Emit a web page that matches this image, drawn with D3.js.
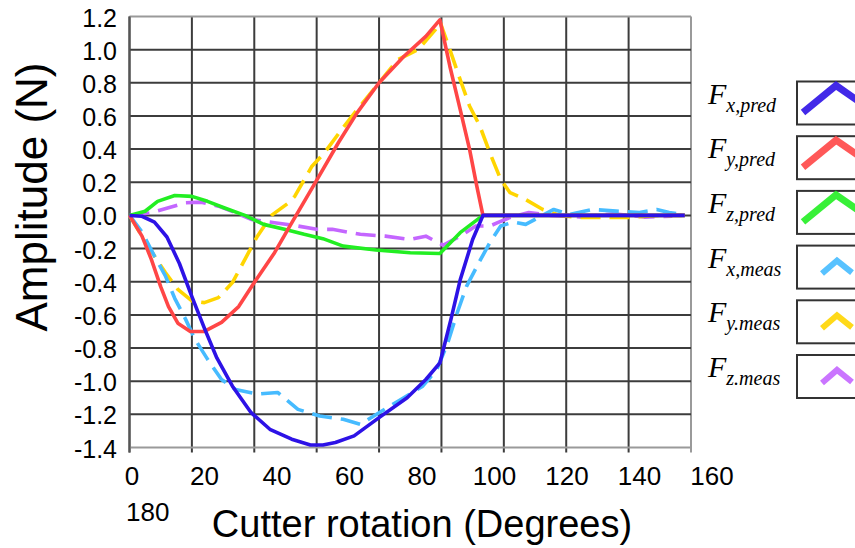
<!DOCTYPE html>
<html>
<head>
<meta charset="utf-8">
<script src="https://cdn.jsdelivr.net/npm/d3@7"></script>
<style>
  body { margin: 0; background: #fff; }
  svg { display: block; }
</style>
</head>
<body>
<svg width="855" height="548"></svg>
<script>
// series, [rotation, amplitude]
var fxPred = [[0,0],[4,-0.005],[8,-0.04],[12,-0.13],[16,-0.29],[20,-0.49],[24,-0.68],[28,-0.86],[33,-1.03],[39,-1.19],[45,-1.29],[52,-1.35],[58,-1.385],[62,-1.385],[66,-1.37],[72,-1.33],[80,-1.22],[89,-1.10],[95,-0.99],[99.5,-0.89],[103,-0.63],[106,-0.39],[110,-0.145],[113.3,0],[178,0]];
var fyPred = [[0,0],[4,-0.125],[7,-0.265],[10,-0.43],[12.5,-0.55],[15.5,-0.65],[19.5,-0.70],[24,-0.70],[29.5,-0.645],[35,-0.55],[40,-0.405],[46.5,-0.225],[52,-0.045],[59,0.18],[67,0.44],[73,0.62],[80,0.80],[88,0.96],[95,1.08],[99.5,1.18],[102.7,0.90],[106,0.64],[109,0.40],[111.3,0.18],[113.3,0],[178,0]];
var fzPred = [[0,0],[5,0.025],[9,0.085],[14.5,0.12],[20,0.115],[25,0.085],[30.5,0.045],[37,0],[43,-0.054],[50,-0.085],[56,-0.114],[62,-0.14],[68.5,-0.185],[79,-0.209],[90,-0.225],[99.5,-0.23],[106,-0.104],[113.3,0],[178,0]];
var fxMeas = [[0,0],[4,-0.10],[8,-0.245],[11.5,-0.365],[14.5,-0.5],[18,-0.627],[21,-0.747],[25,-0.867],[29.5,-0.99],[34,-1.05],[41,-1.078],[47.5,-1.068],[54,-1.17],[61,-1.21],[68.5,-1.23],[74,-1.26],[80,-1.19],[87,-1.11],[94,-1.03],[98.5,-0.93],[102,-0.77],[105,-0.59],[108,-0.43],[112,-0.285],[115.5,-0.165],[119,-0.064],[123,-0.04],[127,-0.054],[136,0.036],[141,0.006],[148.5,0.036],[156,0.026],[163.5,0.018],[169,0.036],[173,0.018],[177,0.006]];
var fyMeas = [[0,0],[4,-0.125],[8,-0.245],[11.5,-0.345],[15.5,-0.446],[20,-0.516],[24,-0.526],[28.5,-0.496],[33,-0.405],[37,-0.265],[41,-0.125],[45.5,0],[51,0.076],[53,0.116],[58.5,0.297],[62.5,0.378],[68,0.518],[73,0.639],[80,0.80],[86,0.94],[92.5,1.0],[98,1.12],[99.5,1.17],[102.7,1.0],[106,0.82],[109,0.66],[112.3,0.54],[115.5,0.378],[119,0.217],[122,0.137],[127,0.096],[132.5,0.036],[138,0],[144,-0.012],[160,-0.012],[170,0],[177,0]];
var fzMeas = [[0,0],[7,0.016],[12.5,0.046],[18,0.076],[23,0.08],[28.5,0.056],[34,0.016],[39,-0.024],[46.5,-0.044],[54,-0.064],[60,-0.084],[65,-0.084],[74,-0.114],[82,-0.125],[90,-0.145],[95,-0.125],[100.5,-0.18],[106,-0.125],[111,-0.064],[115.5,-0.064],[118,-0.044],[122,-0.012],[128,0.018],[135,0],[145,-0.01],[155,0.01],[165,-0.01],[174,-0.004]];

var seriesNames = ["x,pred","y,pred","z,pred","x,meas","y.meas","z.meas"];
var seriesColors = ["#2d12e6","#ff4646","#22ee22","#46bbff","#ffd500","#c466ff"];
var xTickLabels = ["0","20","40","60","80","100","120","140","160"];
var xOverflowLabel = "180";
var yTicks = [1.2,1.0,0.8,0.6,0.4,0.2,0.0,-0.2,-0.4,-0.6,-0.8,-1.0,-1.2,-1.4];

var svg = d3.select("svg");
var x = d3.scaleLinear().domain([0,180]).range([129.5,691]);
var y = d3.scaleLinear().domain([-1.4,1.2]).range([447.5,16.5]);

// grid
var grid = svg.append("g");
grid.selectAll(".vg").data(d3.range(0,181,20)).enter().append("line")
  .attr("x1",d=>x(d)).attr("x2",d=>x(d)).attr("y1",y(1.2)).attr("y2",y(-1.4)+5)
  .attr("stroke",d=>d==180?"#9a9a9a":"#3c3c3c").attr("stroke-width",2);
grid.selectAll(".hg").data(yTicks).enter().append("line")
  .attr("x1",x(0)).attr("x2",x(180)).attr("y1",d=>y(d)).attr("y2",d=>y(d))
  .attr("stroke",d=>(d==1.2||d==-1.4)?"#9a9a9a":"#3c3c3c").attr("stroke-width",2);
grid.append("line").attr("x1",x(0)).attr("x2",x(0)).attr("y1",y(1.2)).attr("y2",y(-1.4)+5)
  .attr("stroke","#555").attr("stroke-width",2);

// y tick labels
svg.append("g").selectAll("text").data(yTicks).enter().append("text")
  .attr("x",117).attr("y",d=>y(d)).attr("dy","0.4em")
  .attr("text-anchor","end")
  .style("font-family","Liberation Sans, Arial, sans-serif").style("font-size","25px")
  .text(d=>d3.format(".1f")(d).replace("−","-"));

// x tick labels (spaced as in the picture, last one wraps)
var xl = d3.scalePoint().domain(xTickLabels).range([132,712]);
svg.append("g").selectAll("text").data(xTickLabels).enter().append("text")
  .attr("x",d=>xl(d)).attr("y",485)
  .attr("text-anchor","middle")
  .style("font-family","Liberation Sans, Arial, sans-serif").style("font-size","26px")
  .text(d=>d);
svg.append("text").attr("x",126).attr("y",521)
  .style("font-family","Liberation Sans, Arial, sans-serif").style("font-size","26px")
  .text(xOverflowLabel);

// titles
svg.append("text").attr("x",422).attr("y",537).attr("text-anchor","middle")
  .style("font-family","Liberation Sans, Arial, sans-serif").style("font-size","38px")
  .text("Cutter rotation (Degrees)");
svg.append("text").attr("transform","translate(47,197) rotate(-90)").attr("text-anchor","middle")
  .style("font-family","Liberation Sans, Arial, sans-serif").style("font-size","44px")
  .text("Amplitude (N)");

// lines
var line = d3.line().x(d=>x(d[0])).y(d=>y(d[1]));
var allSeries = [fxPred,fyPred,fzPred,fxMeas,fyMeas,fzMeas];
var drawOrder = [5,4,3,2,1,0];
svg.append("g").selectAll("path").data(drawOrder).enter().append("path")
  .attr("d",i=>line(allSeries[i]))
  .attr("fill","none")
  .attr("stroke",i=>seriesColors[i])
  .attr("stroke-width",3.6)
  .attr("stroke-linejoin","round")
  .attr("stroke-dasharray",i=>i>2?"20,9":null);

// legend
var lg = svg.append("g");
var rowY = d3.scaleLinear().domain([0,5]).range([81.5,355]);
var rows = lg.selectAll("g").data(seriesNames).enter().append("g")
  .attr("transform",(d,i)=>"translate(0,"+rowY(i)+")");
rows.append("text").attr("x",708).attr("y",22)
  .style("font-family","Liberation Serif, Times New Roman, serif").style("font-style","italic")
  .style("font-size","30px")
  .text("F")
  .append("tspan").attr("dy",8).style("font-size","20px").text(d=>d);
rows.append("rect").attr("x",797).attr("y",0).attr("width",64).attr("height",43)
  .attr("fill","#fff").attr("stroke","#333").attr("stroke-width",2);
rows.append("path")
  .attr("d",(d,i)=>i<3?"M803,31L836,4L862,22":"M822,28L837,15L852,27")
  .attr("fill","none").attr("stroke",(d,i)=>seriesColors[i])
  .attr("stroke-width",(d,i)=>i<3?7:6).attr("stroke-opacity",0.9);
</script>
</body>
</html>
